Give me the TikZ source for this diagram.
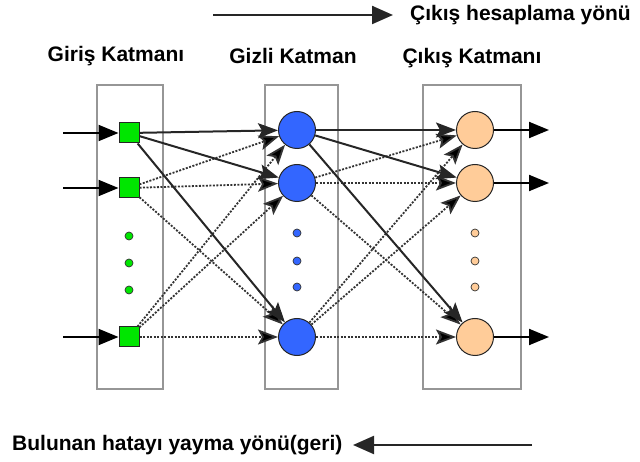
\documentclass[tikz,border=0pt]{standalone}
\usepackage{fontspec}
\setmainfont{Liberation Sans}
\usetikzlibrary{arrows.meta}
\definecolor{inputgreen}{RGB}{0,230,0}
\definecolor{hiddenblue}{RGB}{51,102,255}
\definecolor{outpeach}{RGB}{255,204,153}
\definecolor{framegray}{RGB}{150,150,150}
\begin{document}
\begin{tikzpicture}[x=1pt,y=-1pt,
  layerbox/.style={draw=framegray,line width=1.5pt},
  innode/.style={draw=black!85,fill=inputgreen,line width=1pt,minimum size=20pt,inner sep=0pt},
  hidnode/.style={circle,draw=black!85,fill=hiddenblue,line width=1pt,minimum size=37pt,inner sep=0pt},
  outnode/.style={circle,draw=black!85,fill=outpeach,line width=1pt,minimum size=37pt,inner sep=0pt},
  gdot/.style={circle,draw=black!80,fill=inputgreen,line width=0.7pt,minimum size=8pt,inner sep=0pt},
  bdot/.style={circle,draw=black!80,fill=hiddenblue,line width=0.7pt,minimum size=8pt,inner sep=0pt},
  odot/.style={circle,draw=black!80,fill=outpeach,line width=0.7pt,minimum size=8pt,inner sep=0pt},
  strong/.style={line width=2pt,draw=black!85,-{Stealth[length=20pt,width=15pt,inset=4pt]}},
  weak/.style={line width=1.8pt,draw=black!80,dash pattern=on 2pt off 1.5pt,-{Stealth[length=20pt,width=15pt,inset=4pt,fill=black]}},
  feed/.style={line width=2pt,-{Triangle[length=20pt,width=16pt]}},
  dirarrow/.style={line width=2.2pt,draw=black!85,-{Triangle[length=21pt,width=18pt]}},
  caption/.style={font=\bfseries\fontsize{21}{25}\selectfont,inner sep=0pt}]
\useasboundingbox (0,0) rectangle (640,462);

% layer frames
\draw[layerbox] (97,85) rectangle (163,389);
\draw[layerbox] (265,85) rectangle (338,389);
\draw[layerbox] (423,85) rectangle (521,389);

% layer titles
\node[caption] (tin)  at (116,56) {Giriş Katmanı};
\node[caption] (thid) at (293,56) {Gizli Katman};
\node[caption] (tout) at (472,58) {Çıkış Katmanı};

% input layer
\node[innode] (i1) at (129,133) {};
\node[innode] (i2) at (129,188) {};
\node[innode] (i3) at (129,337) {};
\node[gdot] (g1) at (129,236) {};
\node[gdot] (g2) at (129,263) {};
\node[gdot] (g3) at (129,290) {};

% hidden layer
\node[hidnode] (h1) at (297,130) {};
\node[hidnode] (h2) at (297,183) {};
\node[hidnode] (h3) at (297,337) {};
\node[bdot] (b1) at (297,233) {};
\node[bdot] (b2) at (297,261) {};
\node[bdot] (b3) at (297,287) {};

% output layer
\node[outnode] (o1) at (475,130) {};
\node[outnode] (o2) at (475,183) {};
\node[outnode] (o3) at (475,337) {};
\node[odot] (d1) at (475,233) {};
\node[odot] (d2) at (475,261) {};
\node[odot] (d3) at (475,287) {};

% external inputs and outputs
\coordinate (x1) at (63,133);
\coordinate (x2) at (63,188);
\coordinate (x3) at (63,337);
\coordinate (y1) at (549,130);
\coordinate (y2) at (549,183);
\coordinate (y3) at (549,337);
\draw[feed] (x1) -- (i1);
\draw[feed] (x2) -- (i2);
\draw[feed] (x3) -- (i3);
\draw[feed] (o1) -- (y1);
\draw[feed] (o2) -- (y2);
\draw[feed] (o3) -- (y3);

% input -> hidden weights
\draw[weak] (i2) -- (h1);
\draw[weak] (i2) -- (h2);
\draw[weak] (i2) -- (h3);
\draw[weak] (i3) -- (h1);
\draw[weak] (i3) -- (h2);
\draw[weak] (i3) -- (h3);
\draw[strong] (i1) -- (h1);
\draw[strong] (i1) -- (h2);
\draw[strong] (i1) -- (h3);

% hidden -> output weights
\draw[weak] (h2) -- (o1);
\draw[weak] (h2) -- (o2);
\draw[weak] (h2) -- (o3);
\draw[weak] (h3) -- (o1);
\draw[weak] (h3) -- (o2);
\draw[weak] (h3) -- (o3);
\draw[strong] (h1) -- (o1);
\draw[strong] (h1) -- (o2);
\draw[strong] (h1) -- (o3);

% direction legends
\coordinate (fwdA) at (213,15);
\coordinate (fwdB) at (393,15);
\draw[dirarrow] (fwdA) -- (fwdB);
\node[caption,anchor=west] (fwd) at (410,15) {Çıkış hesaplama yönü};

\coordinate (bwdA) at (532,445);
\coordinate (bwdB) at (353,445);
\draw[dirarrow] (bwdA) -- (bwdB);
\node[caption,anchor=west] (bwd) at (12,445) {Bulunan hatayı yayma yönü(geri)};
\end{tikzpicture}
\end{document}
